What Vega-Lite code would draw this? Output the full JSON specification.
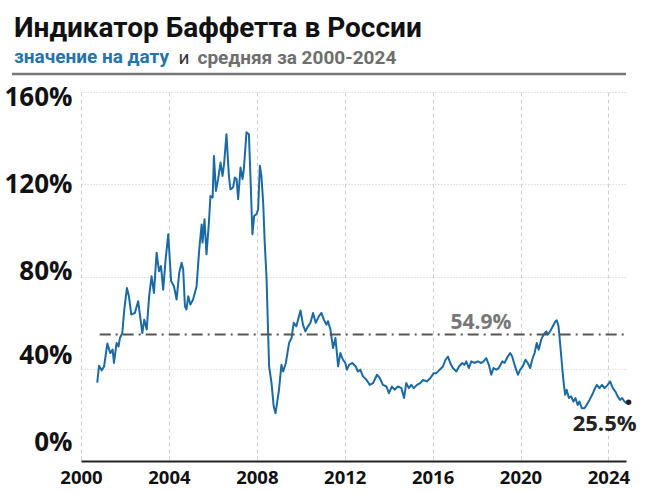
{
  "$schema": "https://vega.github.io/schema/vega-lite/v6.json",
  "width": 545,
  "height": 369,
  "autosize": {"type": "none"},
  "padding": {"left": 81, "top": 92, "right": 22, "bottom": 31},
  "background": "#ffffff",
  "title": {
    "text": "Индикатор Баффетта в России",
    "subtitle": "значение на дату",
    "anchor": "start",
    "frame": "group",
    "dx": -67,
    "dy": 43,
    "offset": 24,
    "font": "Roboto",
    "fontSize": 28,
    "fontWeight": "bold",
    "color": "#111111",
    "subtitleFont": "Roboto",
    "subtitleFontSize": 19,
    "subtitleFontWeight": "bold",
    "subtitleColor": "#2474aa",
    "subtitlePadding": 5
  },
  "datasets": {
    "series": [
      {"year": 2000.74, "value": 34.0}, {"year": 2000.82, "value": 41.3}, {"year": 2000.94, "value": 39.3},
      {"year": 2001.05, "value": 41.0}, {"year": 2001.2, "value": 50.9}, {"year": 2001.33, "value": 46.8},
      {"year": 2001.44, "value": 48.3}, {"year": 2001.5, "value": 42.5}, {"year": 2001.62, "value": 51.2},
      {"year": 2001.71, "value": 49.7}, {"year": 2001.77, "value": 53.3}, {"year": 2001.88, "value": 55.5},
      {"year": 2001.97, "value": 65.7}, {"year": 2002.09, "value": 75.0}, {"year": 2002.18, "value": 71.4},
      {"year": 2002.29, "value": 63.5}, {"year": 2002.45, "value": 64.2}, {"year": 2002.6, "value": 69.3},
      {"year": 2002.68, "value": 63.5}, {"year": 2002.79, "value": 55.5}, {"year": 2002.88, "value": 61.3},
      {"year": 2002.99, "value": 57.0}, {"year": 2003.1, "value": 71.4}, {"year": 2003.21, "value": 80.1},
      {"year": 2003.32, "value": 72.9}, {"year": 2003.44, "value": 90.3}, {"year": 2003.55, "value": 82.3},
      {"year": 2003.64, "value": 84.5}, {"year": 2003.74, "value": 74.3}, {"year": 2003.85, "value": 87.4},
      {"year": 2003.97, "value": 98.3}, {"year": 2004.1, "value": 78.0}, {"year": 2004.23, "value": 75.8},
      {"year": 2004.35, "value": 70.0}, {"year": 2004.47, "value": 81.6}, {"year": 2004.58, "value": 86.0},
      {"year": 2004.65, "value": 83.0}, {"year": 2004.73, "value": 67.1}, {"year": 2004.8, "value": 65.7},
      {"year": 2004.88, "value": 71.4}, {"year": 2004.98, "value": 67.8}, {"year": 2005.1, "value": 70.0},
      {"year": 2005.26, "value": 75.8}, {"year": 2005.38, "value": 91.7}, {"year": 2005.49, "value": 102.6},
      {"year": 2005.53, "value": 94.7}, {"year": 2005.62, "value": 104.8}, {"year": 2005.71, "value": 89.6},
      {"year": 2005.82, "value": 103.3}, {"year": 2005.89, "value": 114.9}, {"year": 2005.99, "value": 114.2},
      {"year": 2006.05, "value": 132.3}, {"year": 2006.14, "value": 117.1}, {"year": 2006.24, "value": 122.2},
      {"year": 2006.35, "value": 129.4}, {"year": 2006.44, "value": 123.6}, {"year": 2006.51, "value": 128.7},
      {"year": 2006.62, "value": 141.7}, {"year": 2006.73, "value": 123.6}, {"year": 2006.8, "value": 117.8},
      {"year": 2006.92, "value": 118.6}, {"year": 2007.0, "value": 122.9}, {"year": 2007.08, "value": 122.2},
      {"year": 2007.15, "value": 113.5}, {"year": 2007.26, "value": 127.3}, {"year": 2007.35, "value": 122.2},
      {"year": 2007.41, "value": 126.5}, {"year": 2007.53, "value": 142.5}, {"year": 2007.64, "value": 141.7},
      {"year": 2007.71, "value": 123.6}, {"year": 2007.8, "value": 98.3}, {"year": 2007.88, "value": 106.2},
      {"year": 2007.98, "value": 107.0}, {"year": 2008.06, "value": 109.1}, {"year": 2008.14, "value": 128.0},
      {"year": 2008.21, "value": 123.6}, {"year": 2008.29, "value": 112.0}, {"year": 2008.36, "value": 94.7},
      {"year": 2008.44, "value": 80.1}, {"year": 2008.56, "value": 41.0}, {"year": 2008.67, "value": 33.8},
      {"year": 2008.77, "value": 23.6}, {"year": 2008.85, "value": 20.7}, {"year": 2008.92, "value": 25.1},
      {"year": 2009.01, "value": 30.9}, {"year": 2009.12, "value": 41.7}, {"year": 2009.2, "value": 38.8},
      {"year": 2009.32, "value": 42.5}, {"year": 2009.47, "value": 51.2}, {"year": 2009.58, "value": 53.3},
      {"year": 2009.68, "value": 59.9}, {"year": 2009.8, "value": 58.4}, {"year": 2009.88, "value": 61.3},
      {"year": 2009.99, "value": 65.3}, {"year": 2010.1, "value": 59.1}, {"year": 2010.21, "value": 56.2},
      {"year": 2010.33, "value": 58.4}, {"year": 2010.44, "value": 59.9}, {"year": 2010.56, "value": 64.2},
      {"year": 2010.68, "value": 59.9}, {"year": 2010.82, "value": 62.7}, {"year": 2010.94, "value": 64.2},
      {"year": 2011.05, "value": 61.3}, {"year": 2011.17, "value": 59.1}, {"year": 2011.24, "value": 60.6},
      {"year": 2011.35, "value": 57.0}, {"year": 2011.47, "value": 49.0}, {"year": 2011.58, "value": 53.3},
      {"year": 2011.7, "value": 41.0}, {"year": 2011.8, "value": 46.8}, {"year": 2011.92, "value": 43.9},
      {"year": 2012.03, "value": 42.5}, {"year": 2012.1, "value": 39.6}, {"year": 2012.2, "value": 41.7},
      {"year": 2012.35, "value": 42.5}, {"year": 2012.5, "value": 41.0}, {"year": 2012.6, "value": 38.8},
      {"year": 2012.71, "value": 39.6}, {"year": 2012.83, "value": 36.7}, {"year": 2012.99, "value": 35.2},
      {"year": 2013.14, "value": 33.0}, {"year": 2013.29, "value": 33.8}, {"year": 2013.47, "value": 37.4},
      {"year": 2013.59, "value": 36.0}, {"year": 2013.74, "value": 33.0}, {"year": 2013.9, "value": 32.3},
      {"year": 2014.01, "value": 29.4}, {"year": 2014.15, "value": 32.3}, {"year": 2014.27, "value": 30.9},
      {"year": 2014.42, "value": 32.3}, {"year": 2014.58, "value": 31.6}, {"year": 2014.7, "value": 27.3},
      {"year": 2014.8, "value": 33.8}, {"year": 2014.92, "value": 31.6}, {"year": 2015.03, "value": 33.0},
      {"year": 2015.14, "value": 31.6}, {"year": 2015.29, "value": 33.0}, {"year": 2015.44, "value": 33.8},
      {"year": 2015.56, "value": 35.2}, {"year": 2015.74, "value": 34.5}, {"year": 2015.9, "value": 36.0},
      {"year": 2016.05, "value": 38.1}, {"year": 2016.17, "value": 38.1}, {"year": 2016.32, "value": 39.6},
      {"year": 2016.47, "value": 41.0}, {"year": 2016.59, "value": 43.9}, {"year": 2016.7, "value": 45.3},
      {"year": 2016.8, "value": 42.5}, {"year": 2016.92, "value": 40.3}, {"year": 2017.08, "value": 38.8},
      {"year": 2017.2, "value": 41.0}, {"year": 2017.35, "value": 42.5}, {"year": 2017.45, "value": 41.7},
      {"year": 2017.53, "value": 43.2}, {"year": 2017.65, "value": 40.3}, {"year": 2017.76, "value": 43.2},
      {"year": 2017.9, "value": 42.5}, {"year": 2018.06, "value": 43.2}, {"year": 2018.21, "value": 42.5},
      {"year": 2018.32, "value": 43.2}, {"year": 2018.44, "value": 44.6}, {"year": 2018.56, "value": 41.7},
      {"year": 2018.67, "value": 37.4}, {"year": 2018.77, "value": 40.3}, {"year": 2018.9, "value": 39.6},
      {"year": 2019.01, "value": 40.3}, {"year": 2019.17, "value": 43.2}, {"year": 2019.27, "value": 42.5},
      {"year": 2019.42, "value": 45.3}, {"year": 2019.53, "value": 46.8}, {"year": 2019.62, "value": 45.3},
      {"year": 2019.73, "value": 41.7}, {"year": 2019.88, "value": 37.4}, {"year": 2019.99, "value": 39.6},
      {"year": 2020.1, "value": 41.0}, {"year": 2020.23, "value": 43.9}, {"year": 2020.33, "value": 42.5},
      {"year": 2020.44, "value": 40.3}, {"year": 2020.53, "value": 43.9}, {"year": 2020.64, "value": 46.8},
      {"year": 2020.74, "value": 51.2}, {"year": 2020.83, "value": 48.3}, {"year": 2020.94, "value": 52.6},
      {"year": 2021.05, "value": 54.8}, {"year": 2021.17, "value": 56.2}, {"year": 2021.24, "value": 54.8},
      {"year": 2021.35, "value": 56.2}, {"year": 2021.47, "value": 58.4}, {"year": 2021.59, "value": 60.6},
      {"year": 2021.65, "value": 61.0}, {"year": 2021.73, "value": 58.4}, {"year": 2021.8, "value": 51.2},
      {"year": 2021.88, "value": 42.5}, {"year": 2021.95, "value": 35.2}, {"year": 2022.03, "value": 28.7},
      {"year": 2022.1, "value": 30.9}, {"year": 2022.2, "value": 27.3}, {"year": 2022.3, "value": 28.0},
      {"year": 2022.41, "value": 25.8}, {"year": 2022.5, "value": 27.3}, {"year": 2022.6, "value": 24.3},
      {"year": 2022.68, "value": 25.8}, {"year": 2022.79, "value": 22.9}, {"year": 2022.91, "value": 22.9},
      {"year": 2023.01, "value": 24.3}, {"year": 2023.14, "value": 26.5}, {"year": 2023.26, "value": 28.7},
      {"year": 2023.36, "value": 30.9}, {"year": 2023.47, "value": 33.0}, {"year": 2023.59, "value": 31.6},
      {"year": 2023.71, "value": 33.0}, {"year": 2023.82, "value": 31.6}, {"year": 2023.97, "value": 33.0},
      {"year": 2024.08, "value": 34.5}, {"year": 2024.2, "value": 31.6}, {"year": 2024.32, "value": 30.1},
      {"year": 2024.42, "value": 28.0}, {"year": 2024.53, "value": 26.5}, {"year": 2024.62, "value": 27.3},
      {"year": 2024.73, "value": 25.8}, {"year": 2024.83, "value": 25.1}, {"year": 2024.92, "value": 25.5}
    ],
    "average": [{"mean": 54.9, "label": "54.9%"}]
  },
  "layer": [
    {
      "data": {"name": "series"},
      "mark": {"type": "line", "color": "#1c6aa3", "strokeWidth": 2, "strokeJoin": "round"},
      "encoding": {
        "x": {
          "field": "year", "type": "quantitative",
          "scale": {"domain": [2000, 2024.8], "nice": false, "zero": false},
          "axis": {
            "values": [2000, 2004, 2008, 2012, 2016, 2020, 2024],
            "format": "d",
            "grid": true,
            "gridDash": [4, 3],
            "gridColor": "#cfcfcf",
            "gridWidth": 1,
            "domain": true,
            "domainColor": "#222222",
            "domainWidth": 2,
            "ticks": false,
            "labelFont": "Open Sans",
            "labelFontSize": 18.5,
            "labelFontWeight": "bold",
            "labelColor": "#111111",
            "labelPadding": 7,
            "labelFlush": false,
            "title": "и",
            "titleFont": "Roboto",
            "titleFontSize": 19,
            "titleFontWeight": "normal",
            "titleColor": "#333333",
            "titleAlign": "left",
            "titleBaseline": "alphabetic",
            "titleAnchor": "start",
            "titleX": 97,
            "titleY": -398
          }
        },
        "y": {
          "field": "value", "type": "quantitative",
          "scale": {"domain": [0, 160], "nice": false},
          "axis": {
            "values": [0, 40, 80, 120, 160],
            "labelExpr": "datum.value + '%'",
            "grid": true,
            "gridDash": [1, 2],
            "gridColor": "#c8c8c8",
            "gridWidth": 1,
            "domain": false,
            "ticks": false,
            "labelFont": "Open Sans",
            "labelFontSize": 26,
            "labelFontWeight": "bold",
            "labelColor": "#111111",
            "labelPadding": 9,
            "labelBaseline": "middle",
            "labelOffset": {
              "condition": [
                {"test": "datum.value == 0", "value": -19},
                {"test": "datum.value == 40", "value": -13},
                {"test": "datum.value == 80", "value": -5},
                {"test": "datum.value == 160", "value": 5}
              ],
              "value": 0
            },
            "title": "средняя за 2000-2024",
            "titleFont": "Roboto",
            "titleFontSize": 19,
            "titleFontWeight": "bold",
            "titleColor": "#6e6e6e",
            "titleAngle": 0,
            "titleAlign": "left",
            "titleBaseline": "alphabetic",
            "titleX": 116,
            "titleY": -29
          }
        }
      }
    },
    {
      "data": {"name": "average"},
      "mark": {"type": "rule", "color": "#555555", "strokeWidth": 2, "strokeDash": [11, 5, 2, 5]},
      "encoding": {
        "y": {"field": "mean", "type": "quantitative"},
        "x": {"datum": 2000.85},
        "x2": {"datum": 2024.8}
      }
    },
    {
      "data": {"name": "average"},
      "mark": {"type": "text", "font": "Open Sans", "fontSize": 21, "fontWeight": "bold", "color": "#777777", "align": "center", "baseline": "middle", "dy": -11},
      "encoding": {
        "y": {"field": "mean", "type": "quantitative"},
        "x": {"datum": 2018.2},
        "text": {"field": "label"}
      }
    },
    {
      "data": {"name": "series"},
      "transform": [{"filter": "datum.year > 2024.9"}],
      "mark": {"type": "point", "filled": true, "color": "#222222", "size": 30, "opacity": 1},
      "encoding": {
        "x": {"field": "year", "type": "quantitative"},
        "y": {"field": "value", "type": "quantitative"}
      }
    },
    {
      "data": {"name": "series"},
      "transform": [
        {"filter": "datum.year > 2024.9"},
        {"calculate": "format(datum.value, '.1f') + '%'", "as": "label"}
      ],
      "mark": {"type": "text", "font": "Open Sans", "fontSize": 22, "fontWeight": "bold", "color": "#222222", "align": "center", "baseline": "middle", "dx": -24, "dy": 22},
      "encoding": {
        "x": {"field": "year", "type": "quantitative"},
        "y": {"field": "value", "type": "quantitative"},
        "text": {"field": "label"}
      }
    },
    {
      "data": {"values": [{"top": 167.8}]},
      "mark": {"type": "rule", "color": "#777777", "strokeWidth": 2.5},
      "encoding": {
        "y": {"field": "top", "type": "quantitative"},
        "x": {"datum": 1996.86},
        "x2": {"datum": 2024.8}
      }
    }
  ],
  "config": {
    "view": {"stroke": null},
    "axis": {"gridOpacity": 1}
  }
}
